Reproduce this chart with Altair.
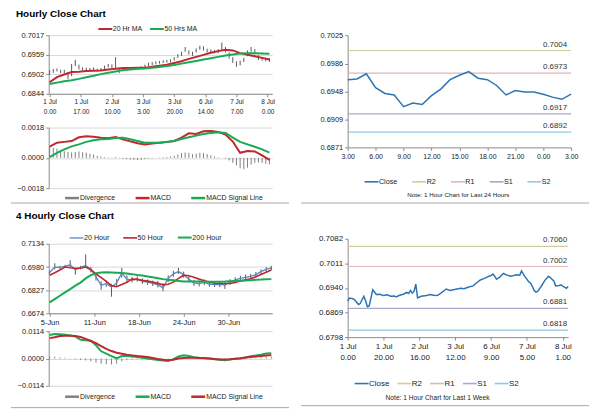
import altair as alt
import pandas as pd

FONT = "Liberation Sans"
RED = "#c0282d"
GREEN = "#1aa954"
BLUE = "#2d74b5"
BLUE4 = "#5b87c5"
STICK = "#595959"
DIVC = "#808080"
R2C, R1C, S1C, S2C = "#cfcd9c", "#e3b5b5", "#aaaac8", "#93c7da"
SEP = "#a8a8a8"

# ---------------- Hourly close chart (top left) ----------------
A_bar_idx = list(range(0, 121, 2))
A_high = [0.6914, 0.6917, 0.6919, 0.6915, 0.6915, 0.6908, 0.6932, 0.6944, 0.6930, 0.6922,
          0.6921, 0.6920, 0.6922, 0.6918, 0.6920, 0.6927, 0.6932, 0.6931, 0.6952, 0.6920,
          0.6918, 0.6920, 0.6921, 0.6922, 0.6923, 0.6925, 0.6930, 0.6936, 0.6938, 0.6940,
          0.6941, 0.6943, 0.6944, 0.6946, 0.6952, 0.6961, 0.6968, 0.6982, 0.6972, 0.6968,
          0.6978, 0.6986, 0.6984, 0.6977, 0.6975, 0.6973, 0.6976, 0.6995, 0.6982, 0.6966,
          0.6952, 0.6940, 0.6942, 0.6950, 0.6972, 0.6982, 0.6976, 0.6958, 0.6953, 0.6950,
          0.6949]
A_low = [0.6900, 0.6906, 0.6910, 0.6905, 0.6904, 0.6888, 0.6896, 0.6926, 0.6916, 0.6913,
         0.6913, 0.6912, 0.6913, 0.6910, 0.6912, 0.6917, 0.6922, 0.6920, 0.6918, 0.6905,
         0.6910, 0.6912, 0.6913, 0.6914, 0.6915, 0.6917, 0.6922, 0.6926, 0.6929, 0.6931,
         0.6933, 0.6935, 0.6936, 0.6937, 0.6942, 0.6950, 0.6956, 0.6968, 0.6960, 0.6956,
         0.6966, 0.6974, 0.6972, 0.6966, 0.6965, 0.6963, 0.6964, 0.6972, 0.6966, 0.6948,
         0.6935, 0.6924, 0.6928, 0.6938, 0.6955, 0.6968, 0.6960, 0.6944, 0.6942, 0.6940,
         0.6938]
A_ma_idx = list(range(0, 121, 4))
A_ma20 = [0.6878, 0.6893, 0.6901, 0.6908, 0.6909, 0.6911, 0.6912, 0.6913, 0.6916, 0.6918,
          0.6920, 0.6920, 0.6921, 0.6921, 0.6924, 0.6927, 0.6930, 0.6935, 0.6940, 0.6947,
          0.6953, 0.6959, 0.6965, 0.6970, 0.6974, 0.6972, 0.6964, 0.6959, 0.6955, 0.6950,
          0.6945]
A_ma50 = [0.6873, 0.6877, 0.6881, 0.6884, 0.6888, 0.6893, 0.6897, 0.6902, 0.6906, 0.6910,
          0.6914, 0.6916, 0.6918, 0.6919, 0.6921, 0.6923, 0.6926, 0.6929, 0.6933, 0.6937,
          0.6941, 0.6945, 0.6949, 0.6953, 0.6957, 0.6960, 0.6963, 0.6964, 0.6964, 0.6963,
          0.6962]
A_series = ["20 Hr MA", "50 Hrs MA"]
A_tick_idx = [0, 17, 34, 51, 68, 85, 102, 119]
A_tick_day = ["1 Jul", "1 Jul", "2 Jul", "3 Jul", "3 Jul", "6 Jul", "7 Jul", "8 Jul"]
A_tick_hour = ["0.00", "17.00", "10.00", "3.00", "20.00", "14.00", "7.00", "0.00"]
A_y_ticks = [0.6844, 0.6902, 0.6959, 0.7017]

# hourly MACD
B_macd = [0.00067, 0.00090, 0.00095, 0.00100, 0.00122, 0.00128, 0.00126, 0.00120, 0.00116, 0.00124,
          0.00110, 0.00098, 0.00087, 0.00080, 0.00085, 0.00090, 0.00095, 0.00100, 0.00120, 0.00146,
          0.00142, 0.00158, 0.00160, 0.00154, 0.00138, 0.00097, 0.00030, 0.00040, 0.00038, 0.00015,
          -0.00012]
B_signal = [0.00004, 0.00030, 0.00050, 0.00068, 0.00080, 0.00095, 0.00105, 0.00110, 0.00112, 0.00118,
            0.00120, 0.00110, 0.00100, 0.00090, 0.00090, 0.00090, 0.00094, 0.00100, 0.00112, 0.00122,
            0.00132, 0.00142, 0.00148, 0.00152, 0.00148, 0.00120, 0.00095, 0.00080, 0.00066, 0.00050,
            0.00031]
B_div = [0.00063, 0.00060, 0.00055, 0.00045, 0.00040, 0.00035, 0.00032, 0.00035, 0.00038, 0.00033,
         0.00030, 0.00025, 0.00020, 0.00012, 0.00008, 0.00004, 0.00002, 0.00002, 0.00005, -0.00002,
         -0.00005, -0.00008, -0.00010, -0.00012, -0.00013, -0.00012, -0.00008, -0.00004, -0.00002, 0.00000,
         0.00002, 0.00004, 0.00005, 0.00008, 0.00012, 0.00020, 0.00028, 0.00032, 0.00030, 0.00022,
         0.00025, 0.00030, 0.00028, 0.00022, 0.00015, 0.00008, 0.00003, 0.00000, -0.00005, -0.00015,
         -0.00030, -0.00045, -0.00062, -0.00068, -0.00058, -0.00040, -0.00030, -0.00028, -0.00030, -0.00035,
         -0.00038]
B_series = ["Divergence", "MACD", "MACD Signal Line"]
B_y_ticks = [-0.0018, 0.0, 0.0018]

# ---------------- 1 hour, last 24 hours (top right) ----------------
C_hours = list(range(25))
C_close = [0.6964, 0.6965, 0.6972, 0.6953, 0.6945, 0.6943, 0.6927, 0.6932, 0.6930, 0.6942,
           0.6951, 0.6964, 0.6970, 0.6975, 0.6966, 0.6964, 0.6956, 0.6943, 0.6949, 0.6947,
           0.6947, 0.6944, 0.6940, 0.6937, 0.6944]
C_tick_hours = [0, 3, 6, 9, 12, 15, 18, 21, 24]
C_tick_labels = ["3.00", "6.00", "9.00", "12.00", "15.00", "18.00", "21.00", "0.00", "3.00"]
C_level_names = ["R2", "R1", "S1", "S2"]
C_level_vals = [0.7004, 0.6973, 0.6917, 0.6892]
C_y_ticks = [0.6871, 0.6909, 0.6948, 0.6986, 0.7025]
C_note = "Note: 1 Hour Chart for Last 24 Hours"

# ---------------- 4 hourly close chart (bottom left) ----------------
D_idx = list(range(0, 130, 3))
D_h20 = [0.6944, 0.6980, 0.6978, 0.6985, 0.6995, 0.6960, 0.6978, 0.6990, 0.6965, 0.6915,
         0.6860, 0.6870, 0.6848, 0.6875, 0.6940, 0.6900, 0.6895, 0.6900, 0.6885, 0.6880,
         0.6872, 0.6862, 0.6842, 0.6905, 0.6935, 0.6950, 0.6930, 0.6900, 0.6875, 0.6870,
         0.6878, 0.6866, 0.6864, 0.6866, 0.6860, 0.6880, 0.6895, 0.6905, 0.6912, 0.6918,
         0.6930, 0.6950, 0.6965, 0.6975]
D_high = [0.6955, 0.7005, 0.6988, 0.6995, 0.7025, 0.6972, 0.6988, 0.7064, 0.6980, 0.6935,
          0.6885, 0.6890, 0.6868, 0.6900, 0.6975, 0.6925, 0.6915, 0.6918, 0.6905, 0.6898,
          0.6890, 0.6888, 0.6872, 0.6925, 0.6955, 0.6975, 0.6950, 0.6920, 0.6895, 0.6890,
          0.6898, 0.6885, 0.6880, 0.6888, 0.6880, 0.6900, 0.6912, 0.6922, 0.6930, 0.6935,
          0.6948, 0.6965, 0.6980, 0.6988]
D_low = [0.6935, 0.6965, 0.6968, 0.6975, 0.6980, 0.6930, 0.6965, 0.6975, 0.6945, 0.6890,
         0.6830, 0.6850, 0.6784, 0.6855, 0.6910, 0.6880, 0.6878, 0.6885, 0.6868, 0.6862,
         0.6855, 0.6845, 0.6820, 0.6880, 0.6915, 0.6935, 0.6910, 0.6880, 0.6855, 0.6852,
         0.6860, 0.6850, 0.6848, 0.6848, 0.6835, 0.6862, 0.6878, 0.6888, 0.6895, 0.6900,
         0.6912, 0.6932, 0.6948, 0.6960]
D_h50 = [0.6926, 0.6942, 0.6960, 0.6980, 0.6975, 0.6972, 0.6972, 0.6980, 0.6962, 0.6935,
         0.6910, 0.6885, 0.6857, 0.6850, 0.6865, 0.6880, 0.6900, 0.6898, 0.6892, 0.6887,
         0.6880, 0.6872, 0.6862, 0.6866, 0.6880, 0.6905, 0.6926, 0.6922, 0.6913, 0.6900,
         0.6889, 0.6880, 0.6873, 0.6871, 0.6871, 0.6871, 0.6878, 0.6888, 0.6895, 0.6902,
         0.6915, 0.6930, 0.6946, 0.6961]
D_h200 = [0.6746, 0.6768, 0.6790, 0.6812, 0.6834, 0.6857, 0.6877, 0.6905, 0.6927, 0.6939,
          0.6944, 0.6946, 0.6944, 0.6942, 0.6940, 0.6937, 0.6933, 0.6928, 0.6924, 0.6918,
          0.6912, 0.6906, 0.6900, 0.6896, 0.6892, 0.6888, 0.6884, 0.6884, 0.6884, 0.6884,
          0.6883, 0.6882, 0.6882, 0.6883, 0.6884, 0.6886, 0.6888, 0.6889, 0.6891, 0.6893,
          0.6896, 0.6897, 0.6899, 0.6900]
D_series = ["20 Hour", "50 Hour", "200 Hour"]
D_tick_idx = [0, 26, 52, 78, 104]
D_tick_labels = ["5-Jun", "11-Jun", "18-Jun", "24-Jun", "30-Jun"]
D_y_ticks = [0.6674, 0.6827, 0.6980, 0.7134]

# 4 hourly MACD
E_macd = [0.0098, 0.0102, 0.0101, 0.0099, 0.0096, 0.0092, 0.0078, 0.0076, 0.0074, 0.0055,
          0.0030, 0.0020, 0.0010, 0.0000, 0.0010, 0.0010, 0.0008, 0.0006, 0.0003, 0.0000,
          -0.0003, -0.0006, -0.0008, -0.0010, -0.0003, 0.0008, 0.0013, 0.0010, 0.0005, 0.0003,
          0.0002, 0.0000, -0.0003, -0.0005, -0.0007, -0.0004, -0.0001, 0.0000, 0.0004, 0.0009,
          0.0012, 0.0016, 0.0021, 0.0022]
E_signal = [0.0085, 0.0089, 0.0094, 0.0095, 0.0095, 0.0094, 0.0090, 0.0082, 0.0073, 0.0064,
            0.0052, 0.0040, 0.0031, 0.0024, 0.0020, 0.0016, 0.0013, 0.0010, 0.0008, 0.0006,
            0.0002, -0.0002, -0.0005, -0.0007, -0.0005, 0.0000, 0.0002, 0.0003, 0.0003, 0.0002,
            0.0001, 0.0000, -0.0002, -0.0004, -0.0004, -0.0003, -0.0001, 0.0001, 0.0004, 0.0006,
            0.0008, 0.0010, 0.0012, 0.0014]
E_div = [0.0008, 0.0007, 0.0005, 0.0003, 0.0001, -0.0003, -0.0006, -0.0008, -0.0012, -0.0017,
         -0.0022, -0.0024, -0.0025, -0.0022, -0.0012, -0.0006, -0.0004, -0.0003, -0.0004, -0.0005,
         -0.0006, -0.0005, -0.0004, -0.0003, 0.0001, 0.0006, 0.0008, 0.0005, 0.0002, 0.0001,
         0.0000, -0.0001, -0.0001, -0.0001, -0.0002, -0.0001, 0.0000, 0.0001, 0.0001, 0.0002,
         0.0003, 0.0005, 0.0007, 0.0008]
E_y_ticks = [-0.0114, 0.0, 0.0114]

# ---------------- 1 hour, last 1 week (bottom right) ----------------
F_idx = [0, 1, 3, 4, 6, 7, 9, 10, 11, 12, 14, 16, 18, 20, 22, 24, 26, 27, 29, 31,
         33, 34, 35, 36, 37, 38, 39, 41, 44, 46, 48, 50, 52, 55, 57, 59, 61, 63, 65, 67,
         70, 72, 74, 76, 78, 80, 81, 82, 83, 85, 86, 87, 88, 89, 91, 92, 94, 96, 97, 98,
         99, 101, 102, 103, 104, 105, 106, 108, 110, 112, 113, 114, 115, 116, 118, 119, 120, 122, 123]
F_close = [0.6902, 0.6911, 0.6909, 0.6905, 0.6892, 0.6895, 0.6916, 0.6903, 0.6886, 0.6888,
           0.6935, 0.6921, 0.6922, 0.6918, 0.6920, 0.6916, 0.6917, 0.6914, 0.6919, 0.6922,
           0.6927, 0.6924, 0.6933, 0.6925, 0.6930, 0.6951, 0.6911, 0.6916, 0.6918, 0.6921,
           0.6919, 0.6918, 0.6925, 0.6937, 0.6933, 0.6935, 0.6937, 0.6939, 0.6938, 0.6942,
           0.6946, 0.6955, 0.6963, 0.6967, 0.6972, 0.6976, 0.6980, 0.6974, 0.6965, 0.6972,
           0.6978, 0.6982, 0.6979, 0.6977, 0.6974, 0.6975, 0.6978, 0.6977, 0.6989, 0.6980,
           0.6972, 0.6958, 0.6954, 0.6945, 0.6933, 0.6928, 0.6930, 0.6945, 0.6962, 0.6974,
           0.6970, 0.6965, 0.6960, 0.6946, 0.6947, 0.6949, 0.6945, 0.6939, 0.6944]
F_tick_idx = [0, 20, 40, 60, 80, 100, 120]
F_tick_day = ["1 Jul", "1 Jul", "2 Jul", "3 Jul", "6 Jul", "7 Jul", "8 Jul"]
F_tick_hour = ["0.00", "20.00", "16.00", "12.00", "9.00", "5.00", "1.00"]
F_level_names = ["R2", "R1", "S1", "S2"]
F_level_vals = [0.7060, 0.7002, 0.6881, 0.6818]
F_y_ticks = [0.6798, 0.6869, 0.6940, 0.7011, 0.7082]
F_note = "Note: 1 Hour Chart for Last 1 Week"

LEVEL_SERIES = ["Close", "R2", "R1", "S1", "S2"]
LEVEL_COLORS = [BLUE, R2C, R1C, S1C, S2C]


# ---------------- helpers ----------------
def js(v):
    if isinstance(v, (list, tuple)):
        return "[" + ",".join(js(x) for x in v) + "]"
    if isinstance(v, str):
        return "'" + v + "'"
    return repr(v)


def tick_expr(ticks, labels):
    return f"{js(labels)}[indexof({js(ticks)}, datum.value)]"


def y_axis(values, fs=7.5, grid=True):
    return alt.Axis(values=values, tickCount=len(values), format=".4f", grid=grid, title=None,
                    tickSize=3, labelPadding=2, labelFontSize=fs, labelOverlap=False,
                    labelFlush=False)


def x_axis(values, labels, fs=7, lh=None):
    kw = dict(values=values, tickCount=len(values), labelExpr=tick_expr(values, labels),
              grid=False, title=None, tickSize=3, labelPadding=2, labelFontSize=fs,
              labelOverlap=False, labelFlush=False)
    if lh:
        kw["labelLineHeight"] = lh
    return alt.Axis(**kw)


def legend(x, y, fs=7, col_pad=14, sw=2, title=None, title_fs=6.5):
    kw = dict(orient="none", legendX=x, legendY=y, direction="horizontal",
              symbolType="M-2,0H2", symbolSize=49, symbolStrokeWidth=sw,
              labelFontSize=fs, labelColor="#222", labelOffset=3, columnPadding=col_pad,
              padding=0, title=title)
    if title:
        kw.update(titleOrient="bottom", titleAnchor="middle", titleFontSize=title_fs,
                  titleFontWeight="normal", titleColor="#222", titlePadding=7)
    return alt.Legend(**kw)


def separator(x1, x2, y):
    return alt.Chart(pd.DataFrame({"k": [0]})).mark_rule(color=SEP, strokeWidth=1).encode(
        x=alt.value(x1), x2=alt.value(x2), y=alt.value(y))


def long_df(idx, cols, names):
    rows = []
    for col, name in zip(cols, names):
        for i, v in zip(idx, col):
            rows.append({"idx": i, "value": v, "series": name})
    return pd.DataFrame(rows)


# ---------------- panel A ----------------
xsA = alt.Scale(domain=[-0.5, 121.5], nice=False, zero=False)
ysA = alt.Scale(domain=[0.6844, 0.7017], nice=False, zero=False)
A_labels = [[d, h] for d, h in zip(A_tick_day, A_tick_hour)]
a_sticks = alt.Chart(pd.DataFrame({"idx": A_bar_idx, "high": A_high, "low": A_low})).mark_rule(
    color=STICK, strokeWidth=1).encode(
    x=alt.X("idx:Q", scale=xsA, axis=x_axis(A_tick_idx, A_labels, fs=6.5, lh=10)),
    y=alt.Y("low:Q", scale=ysA, axis=y_axis(A_y_ticks)),
    y2="high:Q")
a_ma = alt.Chart(long_df(A_ma_idx, [A_ma20, A_ma50], A_series)).mark_line(strokeWidth=2).encode(
    x=alt.X("idx:Q", scale=xsA),
    y=alt.Y("value:Q", scale=ysA),
    color=alt.Color("series:N", scale=alt.Scale(domain=A_series, range=[RED, GREEN]),
                    legend=legend(52.5, -11, fs=7, col_pad=3)))
A = alt.layer(a_sticks, a_ma).properties(
    width=225, height=59,
    title=alt.TitleParams("Hourly Close Chart", anchor="start", frame="group", dx=-33,
                          fontSize=10, fontWeight="bold", color="#000", offset=5))

# ---------------- panel B ----------------
ysB = alt.Scale(domain=[-0.0018, 0.0018], nice=False, zero=False)
B_col = alt.Color("series:N", scale=alt.Scale(domain=B_series, range=[DIVC, RED, GREEN]),
                  legend=legend(18.5, 66, fs=7, col_pad=15, sw=2.5))
b_div = alt.Chart(long_df(A_bar_idx, [B_div], ["Divergence"])).mark_rule(strokeWidth=1).encode(
    x=alt.X("idx:Q", scale=xsA, axis=None),
    y=alt.Y("value:Q", scale=ysB, axis=y_axis(B_y_ticks)),
    y2=alt.datum(0), color=B_col)
b_lines = alt.Chart(long_df(A_ma_idx, [B_macd, B_signal], B_series[1:])).mark_line(strokeWidth=2).encode(
    x=alt.X("idx:Q", scale=xsA), y=alt.Y("value:Q", scale=ysB), color=B_col)
B = alt.layer(b_div, b_lines, separator(-38, 242, 76)).properties(width=225, height=61)

# ---------------- panel C ----------------
xsC = alt.Scale(domain=[0, 24], nice=False, zero=False)
ysC = alt.Scale(domain=[0.6871, 0.7025], nice=False, zero=False)
C_col = alt.Color("series:N", scale=alt.Scale(domain=LEVEL_SERIES, range=LEVEL_COLORS),
                  legend=legend(19.5, 143, fs=7.2, col_pad=11, sw=1.6,
                                title=C_note, title_fs=6.3))
C_lv = pd.DataFrame({"series": C_level_names, "value": C_level_vals, "lx": [C_hours[-1]] * 4})
c_rules = alt.Chart(C_lv).mark_rule(strokeWidth=1.2).encode(
    y=alt.Y("value:Q", scale=ysC, axis=y_axis(C_y_ticks, grid=False)), color=C_col)
c_line = alt.Chart(long_df(C_hours, [C_close], ["Close"])).mark_line(strokeWidth=1.5).encode(
    x=alt.X("idx:Q", scale=xsC, axis=x_axis(C_tick_hours, C_tick_labels, fs=7)),
    y=alt.Y("value:Q", scale=ysC), color=C_col)
c_text = alt.Chart(C_lv).mark_text(align="right", baseline="bottom", dx=-4, dy=-2,
                                   fontSize=8, color="#333").encode(
    x=alt.X("lx:Q", scale=xsC), y=alt.Y("value:Q", scale=ysC),
    text=alt.Text("value:Q", format=".4f"))
C = alt.layer(c_rules, c_line, c_text, separator(-47, 243, 169)).properties(width=225, height=113)

# ---------------- panel D ----------------
xsD = alt.Scale(domain=[-0.5, 129.5], nice=False, zero=False)
ysD = alt.Scale(domain=[0.6674, 0.7134], nice=False, zero=False)
d_sticks = alt.Chart(pd.DataFrame({"idx": D_idx, "high": D_high, "low": D_low})).mark_rule(
    color=STICK, strokeWidth=1).encode(
    x=alt.X("idx:Q", scale=xsD, axis=x_axis(D_tick_idx, D_tick_labels, fs=7.5)),
    y=alt.Y("low:Q", scale=ysD, axis=y_axis(D_y_ticks)),
    y2="high:Q")
D_col = alt.Color("series:N", scale=alt.Scale(domain=D_series, range=[BLUE4, RED, GREEN]),
                  legend=legend(23.5, -11, fs=7.2, col_pad=10))
d_lines = alt.Chart(long_df(D_idx, [D_h20, D_h50, D_h200], D_series)).mark_line().encode(
    x=alt.X("idx:Q", scale=xsD), y=alt.Y("value:Q", scale=ysD), color=D_col,
    strokeWidth=alt.StrokeWidth("series:N", scale=alt.Scale(domain=D_series, range=[1.3, 2, 2]),
                                legend=None))
D = alt.layer(d_sticks, d_lines).properties(
    width=225, height=70,
    title=alt.TitleParams("4 Hourly Close Chart", anchor="start", frame="group", dx=-33,
                          fontSize=10, fontWeight="bold", color="#000", offset=12))

# ---------------- panel E ----------------
ysE = alt.Scale(domain=[-0.0114, 0.0114], nice=False, zero=False)
E_col = alt.Color("series:N", scale=alt.Scale(domain=B_series, range=[DIVC, GREEN, RED]),
                  legend=legend(18.5, 61, fs=7, col_pad=15, sw=2.5))
e_div = alt.Chart(long_df(D_idx, [E_div], ["Divergence"])).mark_rule(strokeWidth=1).encode(
    x=alt.X("idx:Q", scale=xsD, axis=None),
    y=alt.Y("value:Q", scale=ysE, axis=y_axis(E_y_ticks)),
    y2=alt.datum(0), color=E_col)
e_lines = alt.Chart(long_df(D_idx, [E_macd, E_signal], B_series[1:])).mark_line(strokeWidth=2).encode(
    x=alt.X("idx:Q", scale=xsD), y=alt.Y("value:Q", scale=ysE), color=E_col)
E = alt.layer(e_div, e_lines, separator(-38, 242, 77)).properties(width=225, height=55)

# ---------------- panel F ----------------
xsF = alt.Scale(domain=[0, 123], nice=False, zero=False)
ysF = alt.Scale(domain=[0.6798, 0.7082], nice=False, zero=False)
F_col = alt.Color("series:N", scale=alt.Scale(domain=LEVEL_SERIES, range=LEVEL_COLORS),
                  legend=legend(9.5, 141, fs=8, col_pad=4, sw=1.6,
                                title=F_note, title_fs=6.7))
F_lv = pd.DataFrame({"series": F_level_names, "value": F_level_vals, "lx": [F_idx[-1]] * 4})
F_labels = [[d, h] for d, h in zip(F_tick_day, F_tick_hour)]
f_rules = alt.Chart(F_lv).mark_rule(strokeWidth=1.2).encode(
    y=alt.Y("value:Q", scale=ysF, axis=y_axis(F_y_ticks, fs=8, grid=False)), color=F_col)
f_line = alt.Chart(long_df(F_idx, [F_close], ["Close"])).mark_line(strokeWidth=1.5).encode(
    x=alt.X("idx:Q", scale=xsF, axis=x_axis(F_tick_idx, F_labels, fs=8, lh=12)),
    y=alt.Y("value:Q", scale=ysF), color=F_col)
f_text = alt.Chart(F_lv).mark_text(align="right", baseline="bottom", dx=-1, dy=-2,
                                   fontSize=8, color="#333").encode(
    x=alt.X("lx:Q", scale=xsF), y=alt.Y("value:Q", scale=ysF),
    text=alt.Text("value:Q", format=".4f"))
F = alt.layer(f_rules, f_line, f_text, separator(-47, 243, 168)).properties(width=222, height=99)

# ---------------- layout ----------------
RES = dict(x="independent", y="independent", color="independent", strokeWidth="independent")
AB = alt.vconcat(A, B, spacing=34, bounds="flush").resolve_scale(**RES)
DE = alt.vconcat(D, E, spacing=18, bounds="flush").resolve_scale(**RES)
left = alt.vconcat(AB, DE, spacing=7).resolve_scale(**RES)
right = alt.vconcat(C, F, spacing=92, bounds="flush").resolve_scale(**RES)

chart = alt.hconcat(left, right, spacing=10).resolve_scale(**RES).properties(
    padding={"left": 2, "top": 0, "right": 2, "bottom": 0}
).configure(font=FONT).configure_view(strokeWidth=0).configure_axis(
    domainColor="#8c8c8c", tickColor="#8c8c8c", gridColor="#d9d9d9", labelColor="#222",
    labelFont=FONT, labelFlush=False, labelOverlap=False
).configure_legend(labelFont=FONT, titleFont=FONT).configure_title(font=FONT)

chart.save("out.html", embed_options={"renderer": "svg", "actions": False})
